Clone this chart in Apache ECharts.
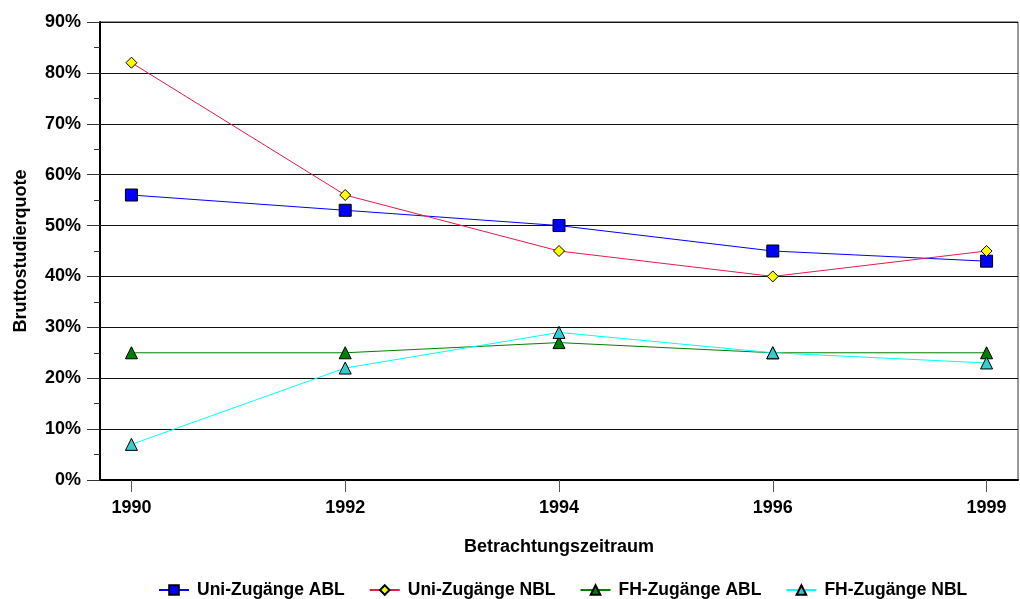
<!DOCTYPE html>
<html>
<head>
<meta charset="utf-8">
<script src="https://cdn.jsdelivr.net/npm/echarts@6/dist/echarts.min.js"></script>
<style>
html,body{margin:0;padding:0;background:#fff;}
#chart{width:1020px;height:599px;}
</style>
</head>
<body>
<div id="chart"></div>
<script>
const years = ['1990', '1992', '1994', '1996', '1999'];
const uniABL = [56, 53, 50, 45, 43];
const uniNBL = [82, 56, 45, 40, 45];
const fhABL = [25, 25, 27, 25, 25];
const fhNBL = [7, 22, 29, 25, 23];
const seriesNames = ['Uni-Zugänge ABL', 'Uni-Zugänge NBL', 'FH-Zugänge ABL', 'FH-Zugänge NBL'];

const FONT = "'Liberation Sans', Arial, sans-serif";
const toPts = arr => arr.map((v, i) => [i, v]);
const idx = years.map((_, i) => i);

function mk(name, data, lineColor, fill, symbol, size) {
  return {
    name: name, type: 'line', data: toPts(data),
    symbol: symbol, symbolSize: size,
    lineStyle: {color: lineColor, width: 1},
    itemStyle: {color: fill, borderColor: '#000', borderWidth: 1},
    emphasis: {disabled: true},
    animation: false
  };
}

const chart = echarts.init(document.getElementById('chart'));
chart.setOption({
  backgroundColor: '#fff',
  animation: false,
  grid: {left: 100, right: 2, top: 22, bottom: 119, show: true, borderColor: '#333', borderWidth: 1, containLabel: false},
  legend: {
    left: 153, top: 576,
    itemWidth: 30, itemHeight: 12, itemGap: 24,
    textStyle: {fontFamily: FONT, fontWeight: 'bold', fontSize: 17.5, color: '#000', padding: [0, 0, 0, 3]},
    data: seriesNames
  },
  xAxis: {
    type: 'value', min: -0.147, max: 4.147,
    name: 'Betrachtungszeitraum', nameLocation: 'middle', nameGap: 58,
    nameTextStyle: {fontFamily: FONT, fontWeight: 'bold', fontSize: 18, color: '#000'},
    axisLine: {show: true, onZero: false, lineStyle: {color: '#000', width: 2}},
    axisTick: {show: true, customValues: idx, length: 12, lineStyle: {color: '#555'}},
    axisLabel: {customValues: idx, formatter: v => years[Math.round(v)], fontFamily: FONT, fontWeight: 'bold', fontSize: 18, color: '#000', margin: 19},
    splitLine: {show: false}
  },
  yAxis: {
    type: 'value', min: 0, max: 90, interval: 10,
    name: 'Bruttostudierquote', nameLocation: 'middle', nameGap: 70,
    nameTextStyle: {fontFamily: FONT, fontWeight: 'bold', fontSize: 18, color: '#000'},
    axisLine: {show: true, onZero: false, lineStyle: {color: '#000', width: 2}},
    axisTick: {show: true, length: 13, lineStyle: {color: '#333'}},
    minorTick: {show: true, splitNumber: 2, length: 6, lineStyle: {color: '#333'}},
    axisLabel: {formatter: '{value}%', fontFamily: FONT, fontWeight: 'bold', fontSize: 18, color: '#000', margin: 19},
    splitLine: {show: true, lineStyle: {color: '#111', width: 1}}
  },
  series: [
    mk(seriesNames[0], uniABL, '#0000ff', '#0000ff', 'rect', 12),
    mk(seriesNames[1], uniNBL, '#e8194b', '#ffff00', 'diamond', 11),
    mk(seriesNames[2], fhABL, '#008000', '#008000', 'triangle', 12),
    mk(seriesNames[3], fhNBL, '#00ffff', '#33cccc', 'triangle', 12)
  ]
});
</script>
</body>
</html>
